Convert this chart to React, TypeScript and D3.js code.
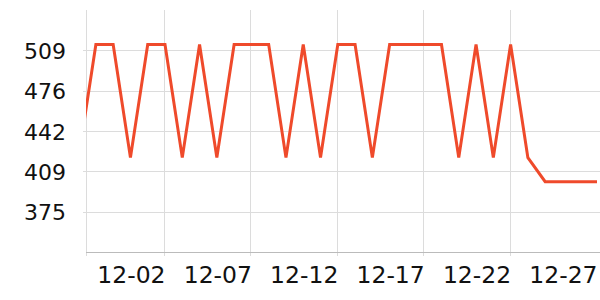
import React from "react";
import * as d3 from "d3";

const dates = [
  "11-29","11-30","12-01","12-02","12-03","12-04","12-05","12-06","12-07","12-08",
  "12-09","12-10","12-11","12-12","12-13","12-14","12-15","12-16","12-17","12-18",
  "12-19","12-20","12-21","12-22","12-23","12-24","12-25","12-26","12-27","12-28","12-29",
];
const values = [
  420, 514, 514, 420, 514, 514, 420, 514, 420, 514,
  514, 514, 420, 514, 420, 514, 514, 420, 514, 514,
  514, 514, 420, 514, 420, 514, 420, 400, 400, 400, 400,
];
const yTicks = [375.1, 408.6, 442.1, 475.6, 509.1];
const yDomain = [341.6, 542.6];
const xLabelIdx = [3, 8, 13, 18, 23, 28];
const xGridIdx = [5, 10, 15, 20, 25];

const W = 600, H = 300;
const plotL = 86, plotR = 600, plotT = 10, plotB = 252;
const FONT = "DejaVu Sans, sans-serif";

export default function App() {
  const x = d3.scaleLinear().domain([0, 30]).range([78.6, 597]);
  const y = d3.scaleLinear().domain(yDomain).range([plotB, plotT]);
  const line = d3
    .line<number>()
    .x((_, i) => x(i))
    .y((d) => y(d));
  return (
    <svg
      width={W}
      height={H}
      style={{ position: "absolute", left: 0, top: 0, display: "block", background: "#fff" }}
    >
      <defs>
        <clipPath id="plotclip">
          <rect x={plotL} y={0} width={plotR - plotL} height={H} />
        </clipPath>
      </defs>
      {yTicks.map((t) => (
        <g key={t}>
          <line x1={plotL - 3} x2={plotR} y1={Math.round(y(t)) + 0.5} y2={Math.round(y(t)) + 0.5} stroke="#dcdcdc" strokeWidth={1} />
          <text
            x={66}
            y={y(t) + 1}
            textAnchor="end"
            dominantBaseline="central"
            fontFamily={FONT}
            fontSize={22}
            fill="#111"
          >
            {Math.round(t)}
          </text>
        </g>
      ))}
      <line x1={plotL + 0.5} x2={plotL + 0.5} y1={plotT} y2={plotB + 4} stroke="#dcdcdc" />
      {xGridIdx.map((i) => (
        <line key={i} x1={Math.round(x(i)) - 0.5} x2={Math.round(x(i)) - 0.5} y1={plotT} y2={plotB + 4} stroke="#dcdcdc" />
      ))}
      <line x1={plotL} x2={plotR} y1={plotB + 0.5} y2={plotB + 0.5} stroke="#bbbbbb" />
      {xLabelIdx.map((i) => (
        <text
          key={i}
          x={x(i) + 1}
          y={283}
          textAnchor="middle"
          fontFamily={FONT}
          fontSize={23.5}
          fill="#111"
        >
          {dates[i]}
        </text>
      ))}
      <path
        d={line(values) || ""}
        fill="none"
        stroke="#ef4a2b"
        strokeWidth={3}
        strokeLinejoin="miter"
        clipPath="url(#plotclip)"
      />
    </svg>
  );
}
